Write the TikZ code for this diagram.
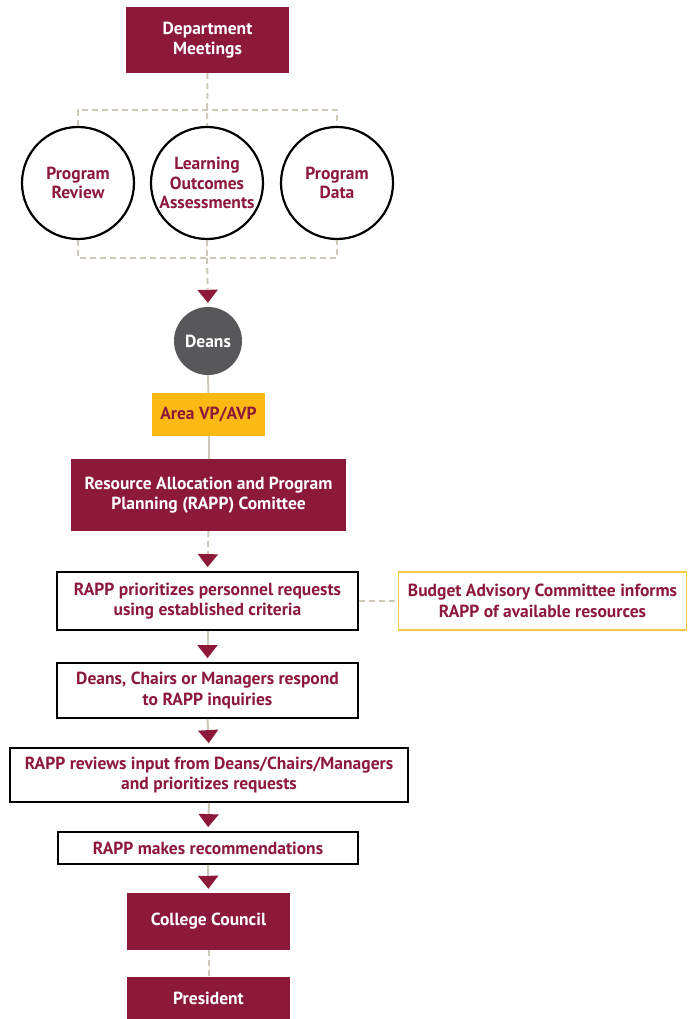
\documentclass[tikz,border=0pt]{standalone}
\usepackage{fontspec}
\setmainfont{PT Sans}
\usetikzlibrary{arrows.meta}
\definecolor{maroon}{RGB}{140,24,58}
\definecolor{tan}{RGB}{205,200,185}
\definecolor{gold}{RGB}{253,185,19}
\definecolor{goldline}{RGB}{245,200,70}
\definecolor{deangray}{RGB}{88,88,90}
\tikzset{
  txt/.style={font=\bfseries\fontsize{17.5}{20.5}\selectfont, align=center, inner sep=0pt},
  filledbox/.style={txt, rectangle, fill=maroon, text=white},
  ringnode/.style={txt, circle, draw=black, line width=2.2pt, text=maroon, minimum size=112pt, font=\bfseries\fontsize{17.5}{19.5}\selectfont},
  stepbox/.style={txt, rectangle, draw=black, line width=1.8pt, text=maroon, fill=white},
  dashline/.style={draw=tan, line width=2pt, dash pattern=on 6pt off 4pt},
  solidline/.style={draw=tan, line width=2pt},
  tip/.style={-{Triangle[width=20pt,length=13pt,color=maroon,fill=maroon]}, shorten >=4pt},
}
\begin{document}
\begin{tikzpicture}[x=1pt,y=-1pt]
\useasboundingbox (0,0) rectangle (688,1019);
% nodes
\node[filledbox, minimum width=163pt, minimum height=66pt] (dept) at (207.5,40) {Department\\Meetings};
\node[ringnode] (pr) at (78,183) {Program\\Review};
\node[ringnode] (loa) at (207,183) {Learning\\Outcomes\\Assessments};
\node[ringnode] (pd) at (337,183) {Program\\Data};
\node[txt, circle, fill=deangray, text=white, minimum size=68pt] (deans) at (208,341) {Deans};
\node[txt, rectangle, fill=gold, text=maroon, minimum width=113pt, minimum height=43pt] (vp) at (208.5,414.5) {Area VP/AVP};
\node[filledbox, minimum width=275pt, minimum height=72pt] (rapp) at (208.5,495) {Resource Allocation and Program\\Planning (RAPP) Comittee};
\node[stepbox, minimum width=301pt, minimum height=58pt] (s1) at (207.5,601) {RAPP prioritizes personnel requests\\using established criteria};
\node[txt, rectangle, draw=goldline, line width=1.8pt, text=maroon, minimum width=288pt, minimum height=58pt] (bud) at (542.5,601) {Budget Advisory Committee informs\\RAPP of available resources};
\node[stepbox, minimum width=301pt, minimum height=55pt] (s2) at (207.5,690.5) {Deans, Chairs or Managers respond\\to RAPP inquiries};
\node[stepbox, minimum width=398pt, minimum height=54pt] (s3) at (209,775) {RAPP reviews input from Deans/Chairs/Managers\\and prioritizes requests};
\node[stepbox, minimum width=300pt, minimum height=32pt] (s4) at (208,848) {RAPP makes recommendations};
\node[filledbox, minimum width=163pt, minimum height=57pt] (cc) at (208.5,921.5) {College Council};
\node[filledbox, minimum width=163pt, minimum height=42pt] (pres) at (208.5,998) {President};
% junctions
\coordinate (top) at (207,110);
\coordinate (bot) at (207,258);
% connectors
\draw[dashline] (dept.south) -- (loa.north);
\draw[dashline] (pr.north) -- (pr.north |- top) -- (pd.north |- top) -- (pd.north);
\draw[dashline] (pr.south) -- (pr.south |- bot) -- (pd.south |- bot) -- (pd.south);
\draw[dashline] (loa.south) -- (bot);
\draw[dashline, tip] (bot) -- (deans.north);
\draw[solidline] (deans.south) -- (vp.north);
\draw[solidline] (vp.south) -- (rapp.north);
\draw[dashline, tip] (rapp.south) -- (s1.north);
\draw[dashline] (s1.east) -- (bud.west);
\draw[solidline, tip] (s1.south) -- (s2.north);
\draw[solidline, tip] (s2.south) -- (s3.north);
\draw[solidline, tip] (s3.south) -- (s4.north);
\draw[solidline, tip] (s4.south) -- (cc.north);
\draw[dashline] (cc.south) -- (pres.north);
\end{tikzpicture}
\end{document}
